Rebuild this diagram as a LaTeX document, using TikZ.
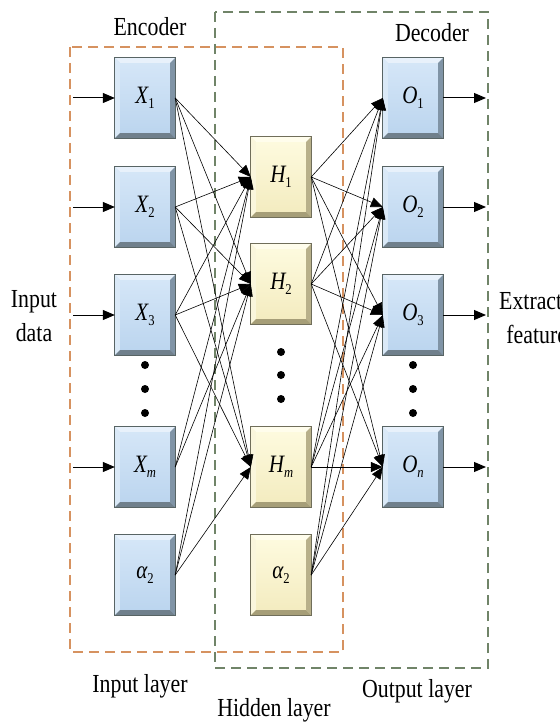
\documentclass[tikz,border=0pt]{standalone}
\usepackage{fontspec}
\setmainfont[FakeStretch=0.84]{Liberation Serif}
\usetikzlibrary{arrows.meta,calc}
\definecolor{encC}{RGB}{214,146,96}
\definecolor{decC}{RGB}{112,132,104}
\definecolor{bFaceT}{RGB}{214,231,248}
\definecolor{bFaceB}{RGB}{186,212,238}
\definecolor{bTop}{RGB}{232,241,251}
\definecolor{bLeft}{RGB}{218,233,247}
\definecolor{bRight}{RGB}{128,148,166}
\definecolor{bBot}{RGB}{112,128,140}
\definecolor{bLine}{RGB}{88,100,100}
\definecolor{yFaceT}{RGB}{254,251,224}
\definecolor{yFaceB}{RGB}{243,235,190}
\definecolor{yTop}{RGB}{255,253,236}
\definecolor{yLeft}{RGB}{250,246,220}
\definecolor{yRight}{RGB}{184,176,138}
\definecolor{yBot}{RGB}{166,158,120}
\definecolor{yLine}{RGB}{112,110,90}
\newcommand\bevelbox[6]{%
  \fill[#2] (#1.north west) -- (#1.north east) -- ([shift={(-5pt,-5pt)}]#1.north east) -- ([shift={(5pt,-5pt)}]#1.north west) -- cycle;
  \fill[#3] (#1.north west) -- ([shift={(5pt,-5pt)}]#1.north west) -- ([shift={(5pt,5pt)}]#1.south west) -- (#1.south west) -- cycle;
  \fill[#4] (#1.north east) -- ([shift={(-5pt,-5pt)}]#1.north east) -- ([shift={(-5pt,5pt)}]#1.south east) -- (#1.south east) -- cycle;
  \fill[#5] (#1.south west) -- ([shift={(5pt,5pt)}]#1.south west) -- ([shift={(-5pt,5pt)}]#1.south east) -- (#1.south east) -- cycle;
  \draw[#6, line width=1pt] (#1.south west) rectangle (#1.north east);
}
\newcommand\blueb[1]{\bevelbox{#1}{bTop}{bLeft}{bRight}{bBot}{bLine}}
\newcommand\yelb[1]{\bevelbox{#1}{yTop}{yLeft}{yRight}{yBot}{yLine}}
\newcommand\vlab[2]{{\itshape #1}\raisebox{-0.45ex}{\fontsize{15}{15}\selectfont #2}}
\tikzset{
  unit/.style={minimum width=60pt, minimum height=80pt, inner sep=0pt,
    font=\fontsize{25}{28}\selectfont},
  bluenode/.style={unit, top color=bFaceT, bottom color=bFaceB},
  yelnode/.style={unit, top color=yFaceT, bottom color=yFaceB},
  lab/.style={font=\fontsize{26}{34}\selectfont, align=center, inner sep=0pt},
  conn/.style={line width=0.6pt, -{Triangle[length=12pt,width=10pt]}},
  ioarrow/.style={line width=1pt, -{Triangle[length=12pt,width=10pt]}},
  encbox/.style={encC, line width=1.6pt, dash pattern=on 10pt off 6pt},
  decbox/.style={decC, line width=1.6pt, dash pattern=on 10pt off 6pt},
  dot/.style={circle, fill=black, inner sep=0pt, minimum size=8pt}
}
\begin{document}
\begin{tikzpicture}[x=1pt,y=-1pt]
\useasboundingbox[fill=white] (0,0) rectangle (559,722);
% dashed group boxes
\draw[encbox] (70,47) rectangle (343,652);
\draw[decbox] (215,12) rectangle (488,668);
% input layer
\node[bluenode] (X1) at (145,98) {\vlab{X}{1}};
\node[bluenode] (X2) at (145,207) {\vlab{X}{2}};
\node[bluenode] (X3) at (145,315) {\vlab{X}{3}};
\node[bluenode] (Xm) at (145,467) {\vlab{X}{\itshape m}};
\node[bluenode] (A1) at (145,575) {\vlab{α}{2}};
% hidden layer
\node[yelnode] (H1) at (281,177) {\vlab{H}{1}};
\node[yelnode] (H2) at (281,284) {\vlab{H}{2}};
\node[yelnode] (Hm) at (281,467) {\vlab{H}{\itshape m}};
\node[yelnode] (A2) at (281,575) {\vlab{α}{2}};
% output layer
\node[bluenode] (O1) at (413,98) {\vlab{O}{1}};
\node[bluenode] (O2) at (413,207) {\vlab{O}{2}};
\node[bluenode] (O3) at (413,315) {\vlab{O}{3}};
\node[bluenode] (On) at (413,467) {\vlab{O}{\itshape n}};
\foreach \n in {X1,X2,X3,Xm,A1,O1,O2,O3,On} {\blueb{\n}}
\foreach \n in {H1,H2,Hm,A2} {\yelb{\n}}
% dots
\node[dot] (dx1) at (145,365) {};
\node[dot] (dx2) at (145,389) {};
\node[dot] (dx3) at (145,413) {};
\node[dot] (dh1) at (281,352) {};
\node[dot] (dh2) at (281,375) {};
\node[dot] (dh3) at (281,399) {};
\node[dot] (do1) at (413,365) {};
\node[dot] (do2) at (413,389) {};
\node[dot] (do3) at (413,413) {};
% connections
\foreach \a/\b in {X1/H1,X1/H2,X1/Hm,X2/H1,X2/H2,X2/Hm,X3/H1,X3/H2,X3/Hm,
                   Xm/H1,Xm/H2,A1/H1,A1/H2,A1/Hm}
  \draw[conn] (\a.east) -- (\b.west);
\foreach \a in {H1,H2,Hm,A2}
  \foreach \b in {O1,O2,O3,On}
    \draw[conn] (\a.east) -- (\b.west);
% input / output arrows
\foreach \n/\y in {X1/98,X2/207,X3/315,Xm/467} {
  \coordinate (in\n) at (73,\y);
  \draw[ioarrow] (in\n) -- (\n.west);
}
\foreach \n/\y in {O1/98,O2/207,O3/315,On/467} {
  \coordinate (out\n) at (486,\y);
  \draw[ioarrow] (\n.east) -- (out\n);
}
% labels
\node[lab] (enc) at (150,27) {Encoder};
\node[lab] (dec) at (432,33) {Decoder};
\node[lab] (inp) at (34,316) {Input\\data};
\begin{scope}
\clip (0,0) rectangle (559,722);
\node[lab] (ext) at (541,318) {Extracted\\features};
\end{scope}
\node[lab] (il) at (140,686) {Input layer};
\node[lab] (hl) at (274,710) {Hidden layer};
\node[lab] (ol) at (417,691) {Output layer};
\end{tikzpicture}
\end{document}
